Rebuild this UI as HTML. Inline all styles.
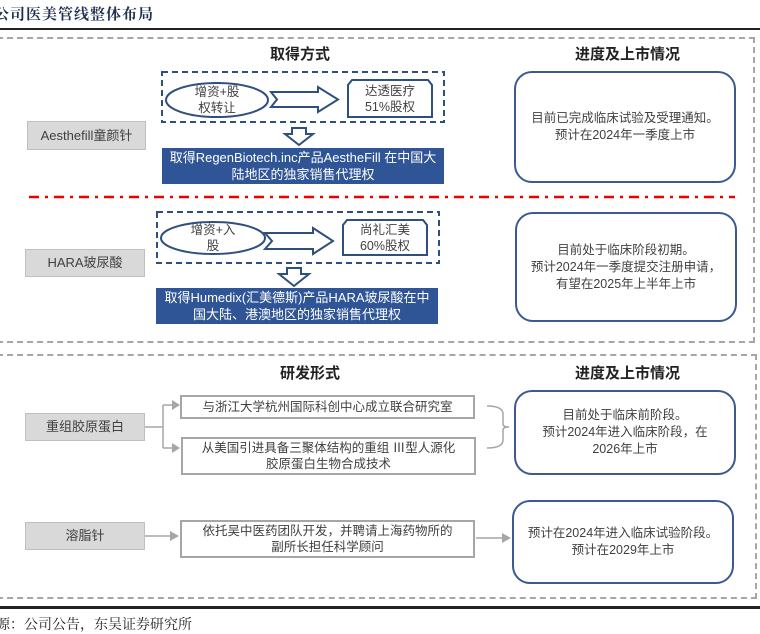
<!DOCTYPE html>
<html><head><meta charset="utf-8"><style>
body{margin:0;width:760px;height:624px;background:#fff;position:relative;overflow:hidden;font-family:"Liberation Sans","Noto Sans CJK SC",sans-serif;color:#404040}
.a{position:absolute;box-sizing:border-box}
.c{display:flex;align-items:center;justify-content:center;text-align:center;line-height:16px}
.g{background:#d9d9d9;border:1px solid #bfbfbf;font-size:13px}
.bl{background:#2f5597;color:#fff;font-size:13px;line-height:17px}
.r{border:2px solid #3c5a8f;border-radius:18px;font-size:12.5px;line-height:17px}
.w{border:2px solid #a6a6a6;font-size:12.5px;background:#fff}
.h{font-weight:bold;font-size:15px;color:#222;text-align:center}
</style></head><body>
<div class="a" style="left:-6px;top:3px;font-family:'Noto Serif CJK SC',serif;font-weight:bold;font-size:15px;color:#1f2f4f;letter-spacing:1px">公司医美管线整体布局</div>
<div class="a" style="left:0;top:28px;width:760px;height:2px;background:#222"></div>
<div class="a" style="left:-3px;top:37px;width:758px;height:306px;border:2px dashed #a6a6a6"></div>
<div class="a" style="left:-3px;top:354px;width:760px;height:245px;border:2px dashed #a6a6a6"></div>
<div class="a" style="left:0;top:606px;width:760px;height:3px;border-top:2px solid #222;border-bottom:1px solid #222"></div>
<div class="a" style="left:-4px;top:614px;font-size:14px;color:#222;font-family:'Noto Serif CJK SC',serif">源：公司公告，东吴证券研究所</div>

<div class="a h" style="left:220px;top:43px;width:160px">取得方式</div>
<div class="a h" style="left:540px;top:43px;width:175px">进度及上市情况</div>
<div class="a h" style="left:230px;top:362px;width:160px">研发形式</div>
<div class="a h" style="left:540px;top:362px;width:175px">进度及上市情况</div>

<svg class="a" style="left:0;top:0" width="760" height="624">
<g fill="none" stroke="#2f4f7f" stroke-width="2">
<rect x="162" y="72" width="282" height="50" stroke-dasharray="6,4"/>
<ellipse cx="217" cy="100" rx="51" ry="17" fill="#fff"/>
<path d="M271,92 H318 V87 L338,99.5 L318,112 V107 H271 L277,99.5 Z" fill="#fff"/>
<path d="M352,80 H428 L432,85 V117 H348 V85 Z" fill="#fff"/>
<path d="M292,128 H306 V134 H313 L299,145 L285,134 H292 Z" fill="#fff"/>
<rect x="157" y="212" width="282" height="51" stroke-dasharray="6,4"/>
<ellipse cx="213" cy="238" rx="52" ry="16" fill="#fff"/>
<path d="M265,233 H313 V228 L333,241 L313,254 V249 H265 L272,241 Z" fill="#fff"/>
<path d="M347,220 H423 L427,225 V255 H343 V225 Z" fill="#fff"/>
<path d="M287,268 H301 V274 H309 L294,286 L279,274 H287 Z" fill="#fff"/>
</g>
<line x1="29" y1="197" x2="735" y2="197" stroke="#e00" stroke-width="2.5" stroke-dasharray="10,6,3,6"/>
<g fill="none" stroke="#a6a6a6" stroke-width="1.5">
<path d="M145,427 H163 M163,405 V448 M163,405 H172 M163,448 H172 M145,536 H170 M476,538 H502"/>
<path d="M487,406 Q503,406 503,414 V424 Q503,427 509,427 Q503,427 503,430 V440 Q503,448 487,448"/>
</g>
<g fill="#a6a6a6"><path d="M172,400 L180,405 L172,410Z M172,443 L180,448 L172,453Z M170,531 L179,536 L170,541Z M502,533 L511,538 L502,543Z"/></g>
</svg>
<div class="a c" style="left:166px;top:84px;width:102px;height:32px;font-size:12.5px">增资+股<br>权转让</div>
<div class="a c" style="left:348px;top:81px;width:84px;height:36px;font-size:12.5px">达透医疗<br>51%股权</div>
<div class="a c" style="left:161px;top:222px;width:104px;height:32px;font-size:12.5px">增资+入<br>股</div>
<div class="a c" style="left:343px;top:221px;width:84px;height:34px;font-size:12.5px">尚礼汇美<br>60%股权</div>
<div class="a c bl" style="left:162px;top:148px;width:282px;height:36px">取得RegenBiotech.inc产品AestheFill 在中国大<br>陆地区的独家销售代理权</div>
<div class="a c bl" style="left:156px;top:288px;width:282px;height:36px">取得Humedix(汇美德斯)产品HARA玻尿酸在中<br>国大陆、港澳地区的独家销售代理权</div>
<div class="a c g" style="left:27px;top:121px;width:119px;height:29px">Aesthefill童颜针</div>
<div class="a c g" style="left:25px;top:249px;width:120px;height:28px">HARA玻尿酸</div>
<div class="a c g" style="left:25px;top:413px;width:120px;height:28px">重组胶原蛋白</div>
<div class="a c g" style="left:25px;top:522px;width:120px;height:28px">溶脂针</div>
<div class="a c r" style="left:514px;top:71px;width:222px;height:112px">目前已完成临床试验及受理通知。<br>预计在2024年一季度上市</div>
<div class="a c r" style="left:515px;top:212px;width:222px;height:110px">目前处于临床阶段初期。<br>预计2024年一季度提交注册申请，<br>有望在2025年上半年上市</div>
<div class="a c r" style="left:514px;top:390px;width:222px;height:85px">目前处于临床前阶段。<br>预计2024年进入临床阶段，在<br>2026年上市</div>
<div class="a c r" style="left:512px;top:500px;width:222px;height:84px">预计在2024年进入临床试验阶段。<br>预计在2029年上市</div>
<div class="a c w" style="left:180px;top:395px;width:295px;height:24px">与浙江大学杭州国际科创中心成立联合研究室</div>
<div class="a c w" style="left:181px;top:437px;width:295px;height:38px">从美国引进具备三聚体结构的重组 Ⅲ型人源化<br>胶原蛋白生物合成技术</div>
<div class="a c w" style="left:180px;top:520px;width:295px;height:38px">依托吴中医药团队开发，并聘请上海药物所的<br>副所长担任科学顾问</div>
</body></html>
